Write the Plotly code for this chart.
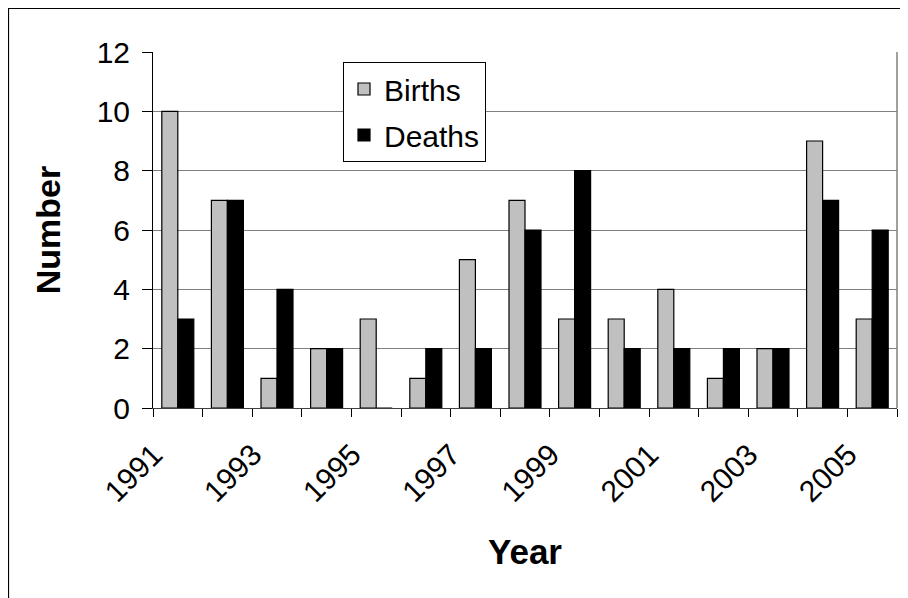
import plotly.graph_objects as go

years = list(range(1991, 2006))
births = [10, 7, 1, 2, 3, 1, 5, 7, 3, 3, 4, 1, 2, 9, 3]
deaths = [3, 7, 4, 2, 0, 2, 2, 6, 8, 2, 2, 2, 2, 7, 6]
tick_years = [1991, 1993, 1995, 1997, 1999, 2001, 2003, 2005]
tick_labels = [str(y) for y in tick_years]
y_ticks = [0, 2, 4, 6, 8, 10, 12]

FONT = "Arial, Liberation Sans, sans-serif"
# page shows figure offset by the 8px body margin
OFF = 8
W, H = 908, 598
L, T = 153 - OFF, 52 - OFF
PR, PB = 897 - OFF, 408 - OFF
R, B = W - PR, H - PB
pw, ph = PR - L, PB - T

fig = go.Figure()
fig.add_trace(go.Bar(x=years, y=births, name="Births", legendgroup="b",
                     marker=dict(color="#C0C0C0", line=dict(color="black", width=1.2))))
fig.add_trace(go.Bar(x=years, y=deaths, name="Deaths", legendgroup="d",
                     marker=dict(color="#000000", line=dict(color="black", width=1.2))))

boundaries = [years[0] - 0.5 + i for i in range(len(years) + 1)]

fig.update_layout(
    width=W, height=H,
    margin=dict(l=L, r=R, t=T, b=B, autoexpand=False),
    paper_bgcolor="white", plot_bgcolor="white",
    barmode="group", bargap=0.355, bargroupgap=0,
    font=dict(family=FONT, color="black"),
    showlegend=True,
    legend=dict(x=(343 - OFF - L) / pw, y=(PB - (62 - OFF)) / ph, xanchor="left", yanchor="top",
                bgcolor="white", bordercolor="black", borderwidth=1,
                font=dict(size=30, family=FONT), tracegroupgap=4,
                itemwidth=30),
    xaxis=dict(
        range=[years[0] - 0.5, years[-1] + 0.5],
        tickmode="array", tickvals=tick_years, ticktext=tick_labels,
        tickangle=-45, ticks="", tickfont=dict(size=30, family=FONT),
        showgrid=False, zeroline=False,
        showline=True, linecolor="#404040", linewidth=1,
        ticklabelstandoff=16, ticklabelshift=-24,
        minor=dict(tickmode="array", tickvals=boundaries, ticks="outside",
                   ticklen=8, tickcolor="black", tickwidth=1, showgrid=False),
        title=dict(text="<b>Year</b>", font=dict(size=35, family=FONT), standoff=32),
    ),
    yaxis=dict(
        range=[0, 12], tickmode="array", tickvals=y_ticks,
        ticks="outside", ticklen=10, tickcolor="black",
        tickfont=dict(size=30, family=FONT), ticklabelstandoff=6,
        showgrid=True, gridcolor="#808080", gridwidth=1,
        zeroline=False, showline=True, linecolor="black", linewidth=1,
        title=dict(text="<b>Number</b>", font=dict(size=34, family=FONT), standoff=25),
    ),
    shapes=[
        dict(type="line", xref="paper", yref="paper", x0=1, x1=1, y0=0, y1=1,
             line=dict(color="#808080", width=1.5)),
        dict(type="rect", xref="paper", yref="paper",
             x0=(0.5 - L) / pw, x1=(W + 20 - L) / pw,
             y0=(PB - (H + 20)) / ph, y1=(PB - 0.5) / ph,
             line=dict(color="black", width=1.2), fillcolor="rgba(0,0,0,0)", layer="above"),
    ],
)

fig.write_html("out.html")
